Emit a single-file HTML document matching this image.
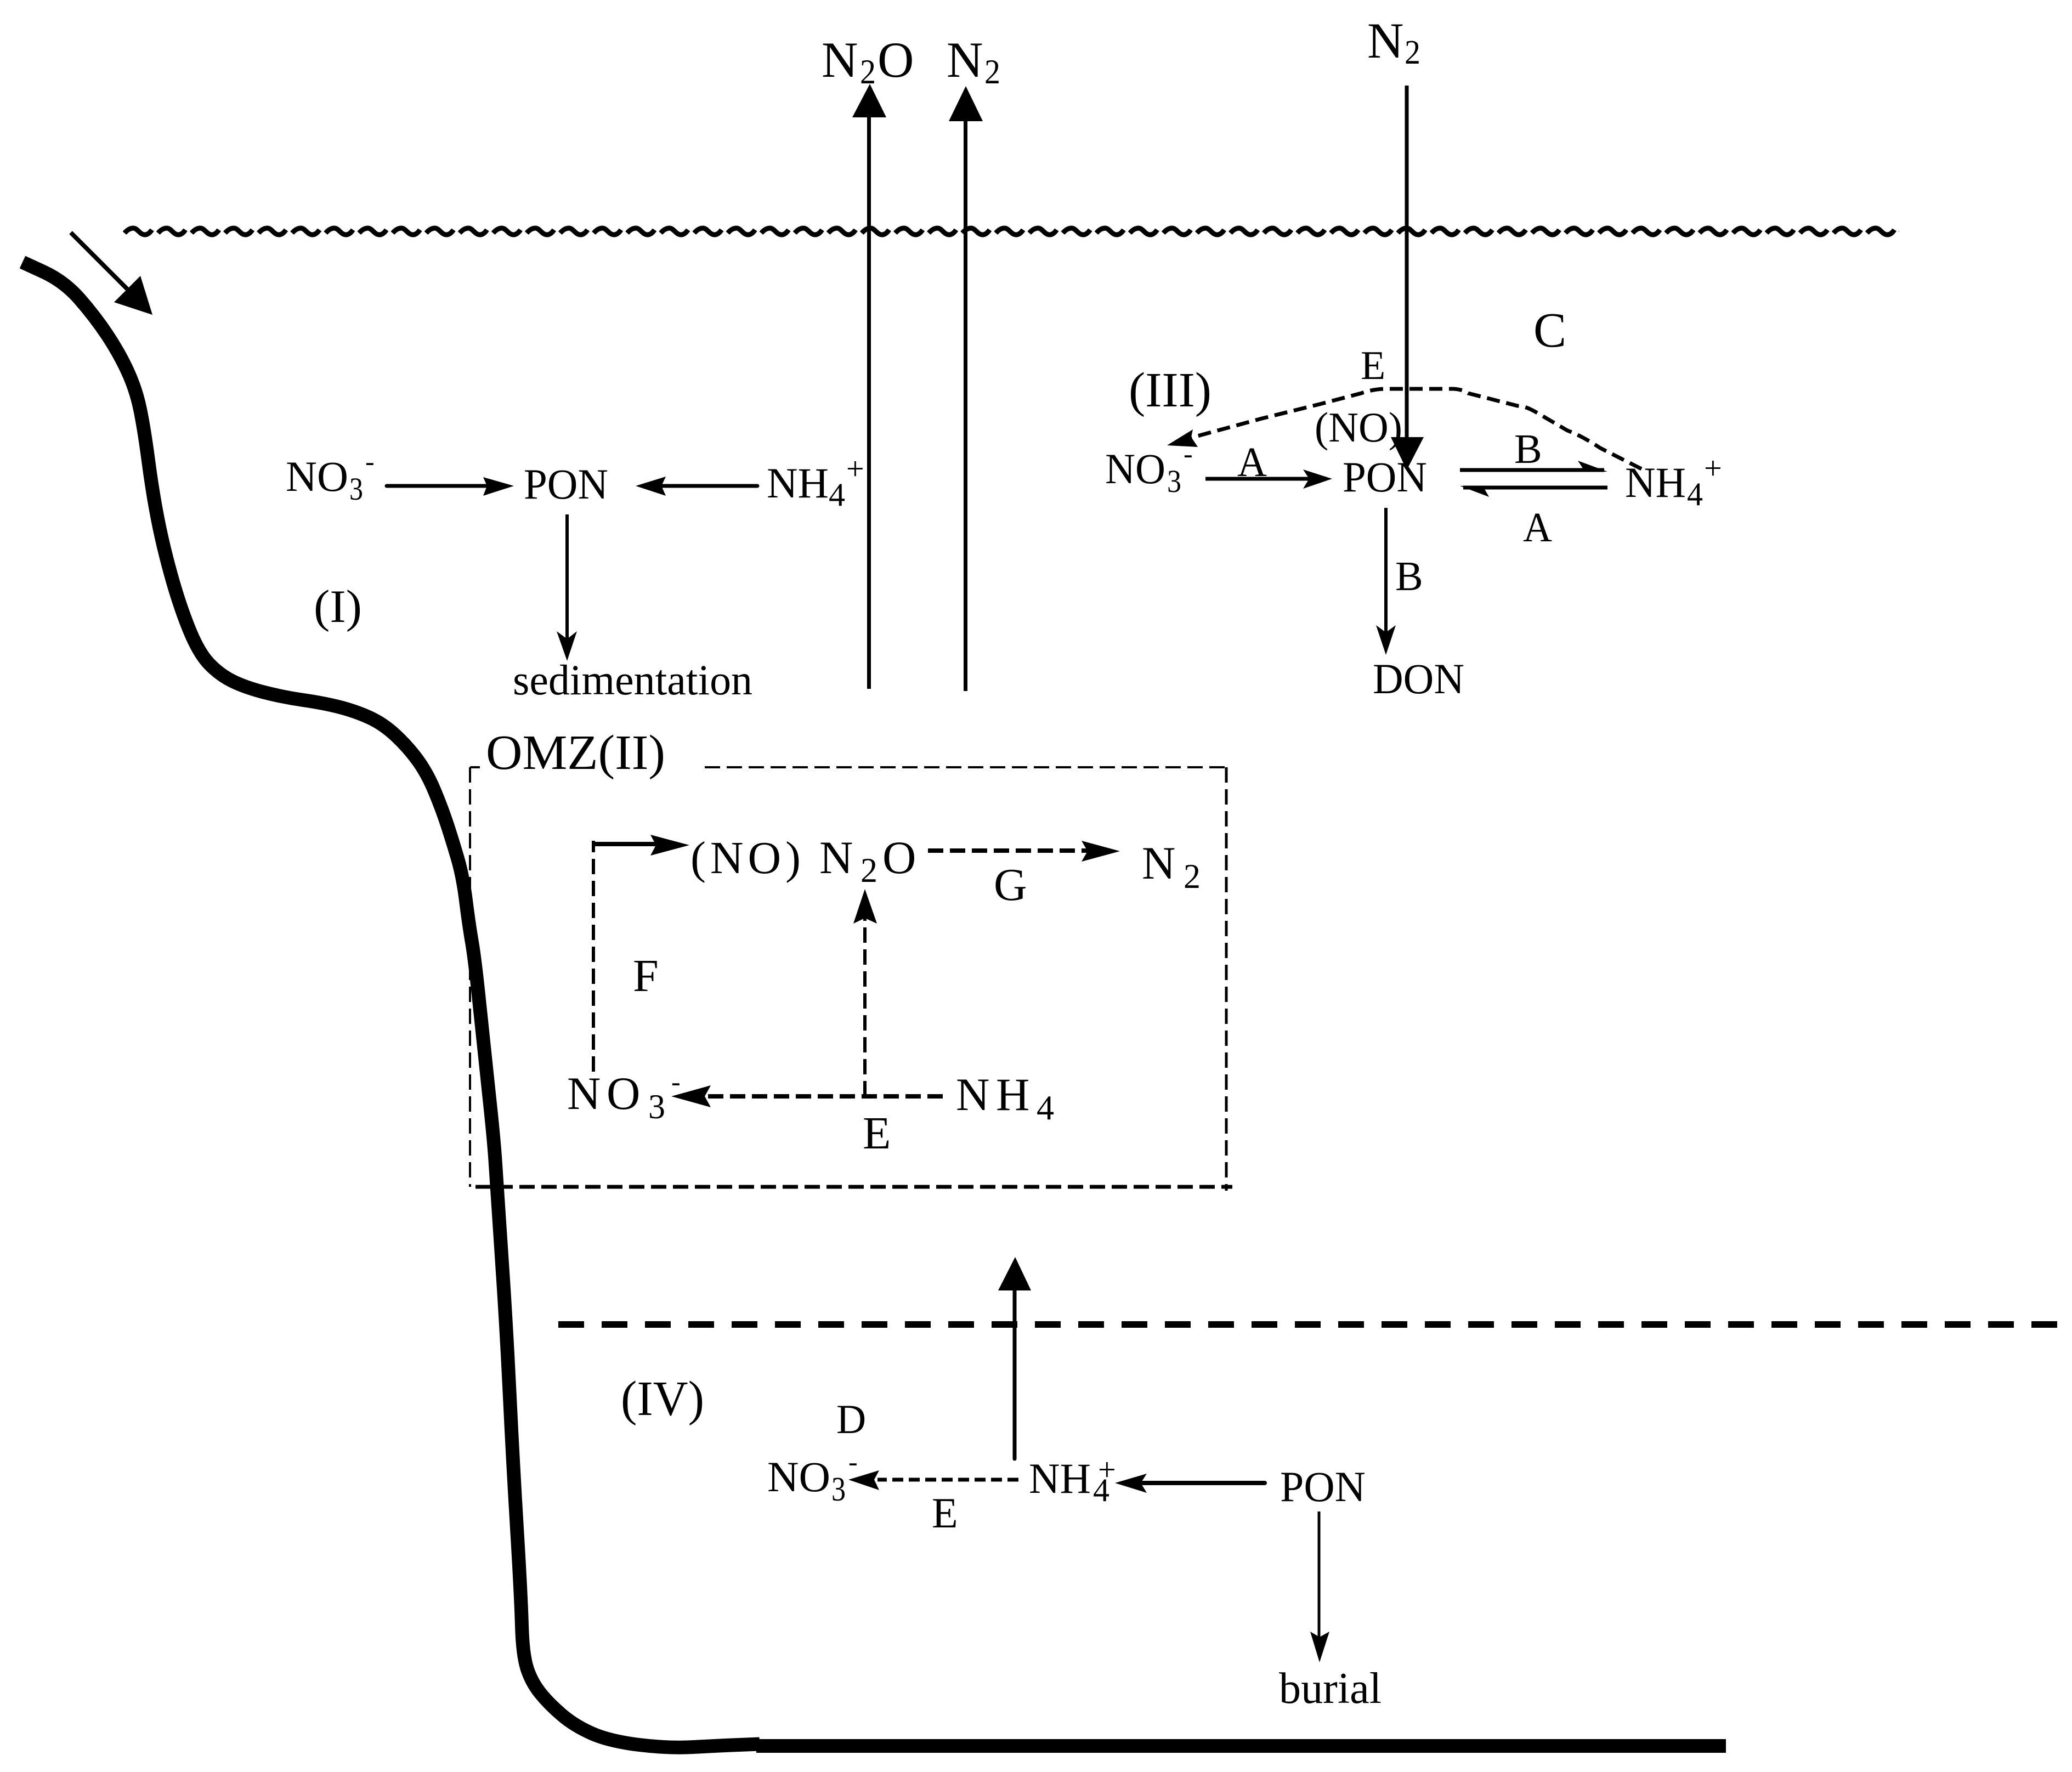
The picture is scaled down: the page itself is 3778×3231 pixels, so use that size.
<!DOCTYPE html>
<html><head><meta charset="utf-8"><style>
html,body{margin:0;padding:0;background:#fff}
svg{display:block}
text{font-family:"Liberation Serif",serif;fill:#000}
</style></head><body>
<svg width="3778" height="3231" viewBox="0 0 3778 3231" xmlns="http://www.w3.org/2000/svg">
<defs>
<pattern id="w" patternUnits="userSpaceOnUse" x="224" y="406" width="61.1" height="30">
<path d="M3 19C9 12 14 10 19 10C27 10 31 22 40 22C45 22 49 19 53 13" fill="none" stroke="#000" stroke-width="9"/>
</pattern>
</defs>
<rect width="3778" height="3231" fill="#fff"/>
<rect x="224" y="406" width="3239" height="30" fill="url(#w)"/>

<!-- coast -->
<path d="M41 478L79 495.5Q117 513 145 545Q173 577 195 610Q217 643 232.5 676.5Q248 710 255.5 746.5Q263 783 270.5 840Q278 897 287.5 946Q297 995 312 1049Q327 1103 344.5 1146.5Q362 1190 381 1210Q400 1230 423 1241.5Q446 1253 480.5 1262Q515 1271 553 1276.5Q591 1282 620 1289.5Q649 1297 674 1308.5Q699 1320 721.5 1341Q744 1362 761.5 1386Q779 1410 792.5 1442.5Q806 1475 815.5 1504Q825 1533 834.5 1565.5Q844 1598 849.5 1642Q855 1686 860.5 1718Q866 1750 874.5 1833Q883 1916 892 1999Q901 2082 903.5 2123.5Q906 2165 914.5 2289Q923 2413 929 2537.5Q935 2662 942.5 2786.5Q950 2911 951.5 2964Q953 3017 961 3042Q969 3067 985 3087Q1001 3107 1024.5 3127Q1048 3147 1080 3161Q1112 3175 1165.5 3181.5Q1219 3188 1264 3185.5Q1309 3183 1347 3181.5L1385 3180" fill="none" stroke="#000" stroke-width="25"/>
<rect x="1379" y="3171" width="1768" height="25"/>

<!-- top-left arrow -->
<line x1="129" y1="424" x2="232" y2="527" stroke="#000" stroke-width="8"/>
<polygon points="278,574 208,551 256,503"/>

<!-- big vertical arrows -->
<line x1="1584.5" y1="1256" x2="1584.5" y2="205" stroke="#000" stroke-width="7"/>
<polygon points="1586,153 1554,214 1616,214"/>
<line x1="1760.5" y1="1260" x2="1760.5" y2="210" stroke="#000" stroke-width="7"/>
<polygon points="1761,157 1730,221 1792,221"/>
<line x1="2565" y1="156" x2="2565" y2="810" stroke="#000" stroke-width="7"/>
<polygon points="2565,857 2536,797 2596,797"/>

<!-- Region I -->
<line x1="705" y1="886" x2="915" y2="886" stroke="#000" stroke-width="7" stroke-linecap="round"/>
<polygon points="937,886 881,870 888,886 881,904"/>
<line x1="1381" y1="886" x2="1185" y2="886" stroke="#000" stroke-width="7" stroke-linecap="round"/>
<polygon points="1159,886 1214,869 1206,886 1214,904"/>
<line x1="1034" y1="938" x2="1034" y2="1170" stroke="#000" stroke-width="6"/>
<polygon points="1034,1205 1015,1151 1034,1165 1052,1151"/>

<text x="521" y="895" font-size="78" textLength="114" lengthAdjust="spacingAndGlyphs">NO</text>
<text x="637" y="911" font-size="58" textLength="25" lengthAdjust="spacingAndGlyphs">3</text>
<text x="666" y="858" font-size="50">-</text>
<text x="955" y="909" font-size="78" textLength="154" lengthAdjust="spacingAndGlyphs">PON</text>
<text x="1398" y="907" font-size="78" textLength="113" lengthAdjust="spacingAndGlyphs">NH</text>
<text x="1511" y="922" font-size="60" textLength="30" lengthAdjust="spacingAndGlyphs">4</text>
<text x="1543" y="874" font-size="58">+</text>
<text x="572" y="1134" font-size="85" textLength="88" lengthAdjust="spacingAndGlyphs">(I)</text>
<text x="935" y="1266" font-size="78" textLength="437" lengthAdjust="spacingAndGlyphs">sedimentation</text>

<!-- top labels -->
<text x="1498" y="140" font-size="92">N</text>
<text x="1568" y="152" font-size="64" textLength="29" lengthAdjust="spacingAndGlyphs">2</text>
<text x="1600" y="140" font-size="92">O</text>
<text x="1726" y="140" font-size="92">N</text>
<text x="1795" y="152" font-size="64" textLength="29" lengthAdjust="spacingAndGlyphs">2</text>
<text x="2493" y="105" font-size="92">N</text>
<text x="2561" y="116" font-size="62" textLength="29" lengthAdjust="spacingAndGlyphs">2</text>

<!-- Region III -->
<text x="2796" y="632" font-size="90">C</text>
<text x="2481" y="691" font-size="74">E</text>
<text x="2058" y="741" font-size="90" textLength="151" lengthAdjust="spacingAndGlyphs">(III)</text>
<path d="M2993 855L2918 817Q2885 795 2858 785L2798 750Q2780 740 2767 740L2677 717Q2665 709 2647 709L2527 709Q2505 709 2482 717L2406 737L2301 763L2165 800" fill="none" stroke="#000" stroke-width="7" stroke-dasharray="24 12"/>
<polygon points="2128,812 2175,783 2172,797 2184,815"/>
<text x="2397" y="805" font-size="77" textLength="160" lengthAdjust="spacingAndGlyphs">(NO)</text>
<text x="2015" y="881" font-size="78" textLength="110" lengthAdjust="spacingAndGlyphs">NO</text>
<text x="2128" y="897" font-size="58" textLength="26" lengthAdjust="spacingAndGlyphs">3</text>
<text x="2158" y="844" font-size="50">-</text>
<line x1="2198" y1="873" x2="2405" y2="873" stroke="#000" stroke-width="7"/>
<polygon points="2429,873 2376,856 2387,873 2376,891"/>
<text x="2256" y="868" font-size="76" textLength="54" lengthAdjust="spacingAndGlyphs">A</text>
<text x="2448" y="896" font-size="78" textLength="154" lengthAdjust="spacingAndGlyphs">PON</text>
<line x1="2662" y1="857" x2="2925" y2="857" stroke="#000" stroke-width="7"/>
<polygon points="2931,860 2877,840 2886,854 2886,860"/>
<line x1="2931" y1="889" x2="2668" y2="889" stroke="#000" stroke-width="7"/>
<polygon points="2662,886 2715,906 2707,892 2707,886"/>
<text x="2761" y="844" font-size="76">B</text>
<text x="2777" y="987" font-size="76" textLength="53" lengthAdjust="spacingAndGlyphs">A</text>
<text x="2963" y="906" font-size="78" textLength="111" lengthAdjust="spacingAndGlyphs">NH</text>
<text x="3076" y="921" font-size="60" textLength="29" lengthAdjust="spacingAndGlyphs">4</text>
<text x="3107" y="873" font-size="58">+</text>
<line x1="2527" y1="926" x2="2527" y2="1160" stroke="#000" stroke-width="6"/>
<polygon points="2527,1194 2509,1140 2527,1153 2545,1140"/>
<text x="2544" y="1076" font-size="76">B</text>
<text x="2503" y="1264" font-size="78" textLength="167" lengthAdjust="spacingAndGlyphs">DON</text>

<!-- OMZ box -->
<text x="886" y="1402" font-size="90" textLength="327" lengthAdjust="spacingAndGlyphs">OMZ(II)</text>
<path d="M857 1399H875" fill="none" stroke="#000" stroke-width="4"/>
<path d="M857 1399V2164" fill="none" stroke="#000" stroke-width="4" stroke-dasharray="28 12"/>
<path d="M1285 1399H2236" fill="none" stroke="#000" stroke-width="4" stroke-dasharray="28 12"/>
<path d="M2236 1399V2171" fill="none" stroke="#000" stroke-width="5" stroke-dasharray="28 12"/>
<path d="M867 2164H2247" fill="none" stroke="#000" stroke-width="7" stroke-dasharray="28 12"/>

<path d="M1082 1954V1533" fill="none" stroke="#000" stroke-width="6" stroke-dasharray="28 12"/>
<line x1="1082" y1="1539" x2="1230" y2="1539" stroke="#000" stroke-width="8"/>
<polygon points="1257,1541 1186,1522 1196,1541 1186,1560"/>
<text x="1259" y="1592" font-size="84" textLength="201" lengthAdjust="spacing">(NO)</text>
<text x="1494" y="1592" font-size="85">N</text>
<text x="1569" y="1608" font-size="64" textLength="31" lengthAdjust="spacingAndGlyphs">2</text>
<text x="1609" y="1592" font-size="85">O</text>
<path d="M1692 1551H1990" fill="none" stroke="#000" stroke-width="8" stroke-dasharray="28 12"/>
<polygon points="2042,1552 1972,1533 1983,1552 1972,1571"/>
<text x="2082" y="1602" font-size="85">N</text>
<text x="2158" y="1619" font-size="64" textLength="31" lengthAdjust="spacingAndGlyphs">2</text>
<text x="1812" y="1641" font-size="84">G</text>
<text x="1154" y="1807" font-size="84">F</text>
<path d="M1577 1999V1665" fill="none" stroke="#000" stroke-width="6" stroke-dasharray="28 12"/>
<polygon points="1577,1621 1556,1684 1577,1674 1599,1684"/>
<path d="M1719 1999H1270" fill="none" stroke="#000" stroke-width="8" stroke-dasharray="28 12"/>
<polygon points="1224,1999 1296,1979 1285,1999 1296,2019"/>
<text x="1034" y="2022" font-size="85">N</text>
<text x="1106" y="2022" font-size="85">O</text>
<text x="1182" y="2039" font-size="64" textLength="31" lengthAdjust="spacingAndGlyphs">3</text>
<text x="1224" y="1989" font-size="50">-</text>
<text x="1743" y="2024" font-size="85">N</text>
<text x="1816" y="2024" font-size="85">H</text>
<text x="1890" y="2041" font-size="64" textLength="32" lengthAdjust="spacingAndGlyphs">4</text>
<text x="1573" y="2094" font-size="84">E</text>

<!-- Region IV -->
<line x1="1850" y1="2660" x2="1850" y2="2340" stroke="#000" stroke-width="7" stroke-linecap="round"/>
<polygon points="1851,2292 1820,2353 1880,2353"/>
<path d="M1018 2415H3778" fill="none" stroke="#000" stroke-width="12" stroke-dasharray="47 32"/>
<text x="1132" y="2580" font-size="90" textLength="152" lengthAdjust="spacingAndGlyphs">(IV)</text>
<text x="1525" y="2613" font-size="75">D</text>
<text x="1399" y="2719" font-size="78" textLength="115" lengthAdjust="spacingAndGlyphs">NO</text>
<text x="1516" y="2736" font-size="62" textLength="26" lengthAdjust="spacingAndGlyphs">3</text>
<text x="1547" y="2682" font-size="50">-</text>
<path d="M1857 2698H1600" fill="none" stroke="#000" stroke-width="7" stroke-dasharray="20 10"/>
<polygon points="1547,2698 1603,2681 1594,2698 1603,2717"/>
<text x="1876" y="2722" font-size="78" textLength="113" lengthAdjust="spacingAndGlyphs">NH</text>
<text x="1993" y="2737" font-size="60" textLength="30" lengthAdjust="spacingAndGlyphs">4</text>
<text x="2002" y="2699" font-size="58">+</text>
<line x1="2306" y1="2704" x2="2070" y2="2704" stroke="#000" stroke-width="8" stroke-linecap="round"/>
<polygon points="2033,2704 2091,2687 2080,2704 2091,2722"/>
<text x="2334" y="2737" font-size="78" textLength="156" lengthAdjust="spacingAndGlyphs">PON</text>
<line x1="2405" y1="2756" x2="2405" y2="2990" stroke="#000" stroke-width="5"/>
<polygon points="2406,3031 2389,2975 2406,2985 2424,2975"/>
<text x="1699" y="2785" font-size="78">E</text>
<text x="2332" y="3105" font-size="80" textLength="187" lengthAdjust="spacingAndGlyphs">burial</text>
</svg>
</body></html>
